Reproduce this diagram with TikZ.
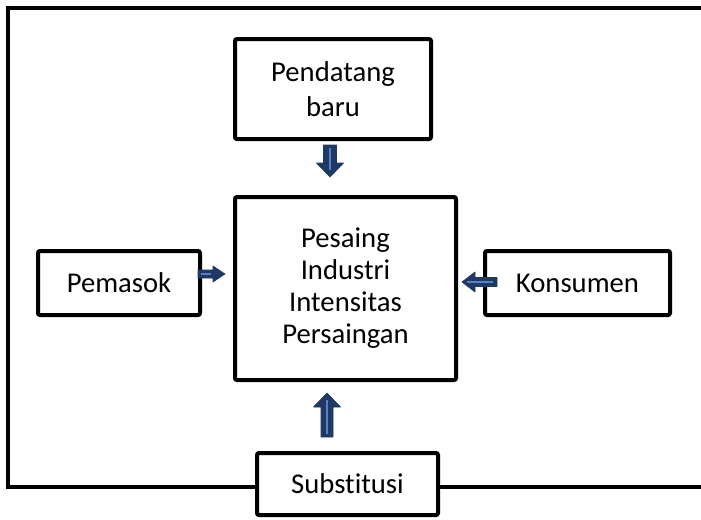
\documentclass[tikz,border=0pt]{standalone}
\usepackage{fontspec}
\setmainfont{Carlito}[Ligatures={NoCommon,NoRare,NoDiscretionary}]
\definecolor{navy}{RGB}{31,56,100}
\definecolor{garis}{RGB}{84,130,200}
\tikzset{
  kotak/.style={draw, line width=3pt, rounded corners=1.5pt, align=center,
    font=\fontsize{21.5}{24}\selectfont, inner sep=0pt},
  bingkai/.style={line width=3pt},
  panah/.style={fill=navy, draw=navy, line width=0.5pt, line join=round},
  isi/.style={draw=garis, line width=1.5pt}
}
\begin{document}
\begin{tikzpicture}[x=0.75pt, y=-0.75pt]
  \useasboundingbox (0,0) rectangle (701,519);
  % kotak
  \node[kotak, minimum width=196*0.75pt, minimum height=100*0.75pt] (baru) at (333,89) {Pendatang\\[2pt]baru};
  \node[kotak, minimum width=221*0.75pt, minimum height=183*0.75pt] (pesaing) at (345.5,288.5) {Pesaing\\Industri\\Intensitas\\Persaingan};
  \node[kotak, minimum width=162*0.75pt, minimum height=64*0.75pt] (pemasok) at (119,283) {Pemasok};
  \node[kotak, minimum width=185*0.75pt, minimum height=64*0.75pt] (konsumen) at (577.5,283) {Konsumen};
  \node[kotak, minimum width=181*0.75pt, minimum height=62*0.75pt] (substitusi) at (347.5,484) {Substitusi};
  % bingkai luar
  \coordinate (ka) at (701,8);
  \coordinate (kb) at (701,487);
  \draw[bingkai] (ka) -- (8,8) -- (8,487) -- (substitusi.west |- 8,487);
  \draw[bingkai] (substitusi.east |- kb) -- (kb);
  % panah blok
  \draw[panah] (323.5,145) -- (336.5,145) -- (336.5,163) -- (343.5,163) -- (330,177) -- (316.5,163) -- (323.5,163) -- cycle;
  \draw[isi] (330,148) -- (330,170);
  \draw[panah] (321,437) -- (333,437) -- (333,407) -- (340.5,407) -- (327,393) -- (313.5,407) -- (321,407) -- cycle;
  \draw[isi] (327,400) -- (327,434);
  \draw[panah] (198,270) -- (213,270) -- (213,266) -- (225,274) -- (213,282) -- (213,278) -- (198,278) -- cycle;
  \draw[isi] (201,274) -- (211,274);
  \draw[panah] (497,277.5) -- (475,277.5) -- (475,272) -- (462,282) -- (475,292) -- (475,286.5) -- (497,286.5) -- cycle;
  \draw[isi] (467,282) -- (493,282);
\end{tikzpicture}
\end{document}
